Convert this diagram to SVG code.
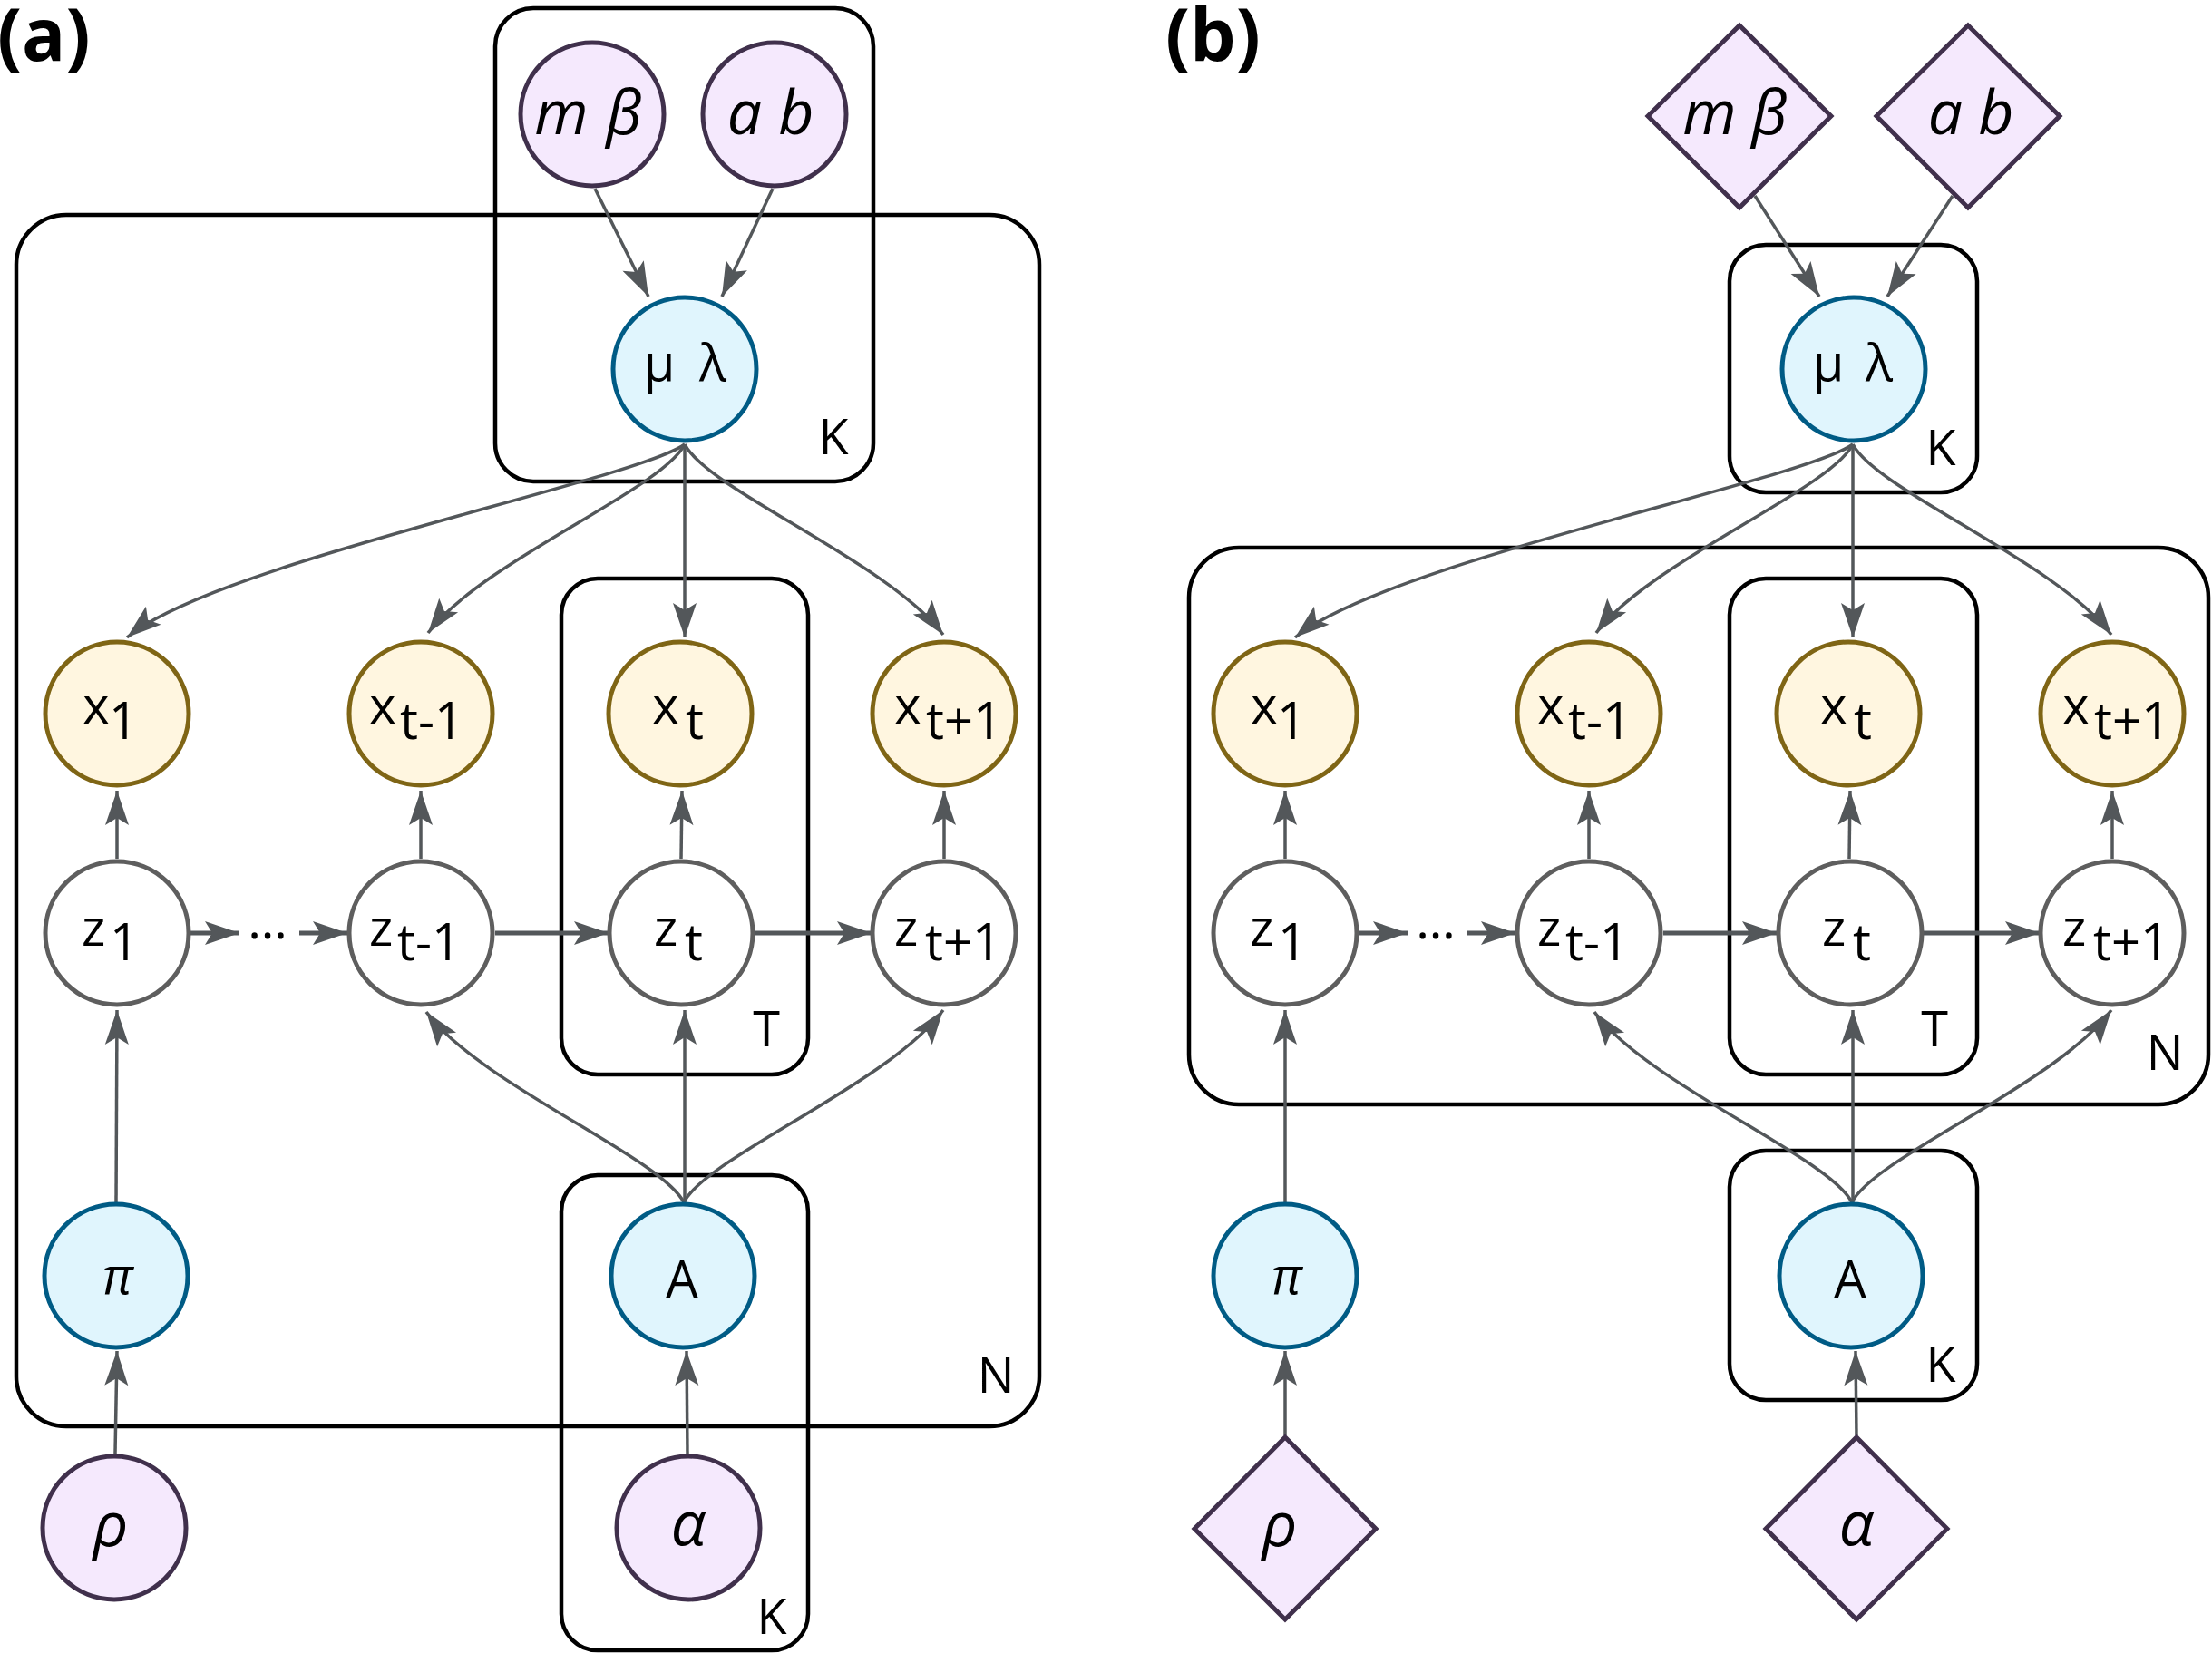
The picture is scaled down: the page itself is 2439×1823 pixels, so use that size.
<svg xmlns="http://www.w3.org/2000/svg" width="2439" height="1823" viewBox="0 0 2439 1823">
<style>
.plate{fill:none;stroke:#000;stroke-width:4.5}
.hyp{fill:#F5E9FD;stroke:#40304C;stroke-width:5}
.par{fill:#E0F5FD;stroke:#005B85;stroke-width:5}
.obs{fill:#FFF6E0;stroke:#7F6515;stroke-width:5}
.lat{fill:#FFFFFF;stroke:#5E5E5E;stroke-width:5}
.c{fill:none;stroke:#53575A;stroke-width:3.5;marker-end:url(#ah)}
.ct{fill:none;stroke:#53575A;stroke-width:5;marker-end:url(#ah)}
text{font-family:"Open Sans","DejaVu Sans",sans-serif;fill:#000}
.lb{font-size:56px;text-anchor:middle}
.it{font-size:68px;font-style:italic;text-anchor:middle}
.itm{font-size:56px;font-style:italic;text-anchor:middle}
.pl{font-size:54px;text-anchor:middle}
.ttl{font-size:80px;font-weight:bold}
</style>
<defs>
<marker id="ah" markerUnits="userSpaceOnUse" viewBox="-42 -17 46 34" refX="0" refY="0" markerWidth="46" markerHeight="34" orient="auto">
<path d="M0,0 L-38,-13 L-30,0 L-38,13 Z" fill="#53575A"/>
</marker>
</defs>
<rect width="2439" height="1823" fill="#fff"/>
<text class="ttl" x="-3" y="67">(a)</text>
<text class="ttl" x="1285" y="67">(b)</text>

<g id="plates-a">
<rect class="plate" x="18" y="237" width="1128" height="1336" rx="55"/>
<rect class="plate" x="546" y="9" width="417" height="522" rx="42"/>
<rect class="plate" x="619" y="638" width="272" height="547" rx="40"/>
<rect class="plate" x="619" y="1296" width="272" height="524" rx="40"/>
<text class="pl" x="919" y="501">K</text>
<text class="pl" x="845" y="1154">T</text>
<text class="pl" x="1098" y="1536">N</text>
<text class="pl" x="851" y="1802">K</text>
</g>
<g id="plates-b">
<rect class="plate" x="1311" y="604" width="1124" height="614" rx="55"/>
<rect class="plate" x="1907" y="270" width="273" height="273" rx="40"/>
<rect class="plate" x="1907" y="638" width="273" height="547" rx="40"/>
<rect class="plate" x="1907" y="1269" width="273" height="275" rx="40"/>
<text class="pl" x="2140" y="513">K</text>
<text class="pl" x="2133" y="1154">T</text>
<text class="pl" x="2387" y="1180">N</text>
<text class="pl" x="2140" y="1524">K</text>
</g>

<g id="connectors">
<!-- panel a -->
<path class="c" d="M656,208 L715,327"/>
<path class="c" d="M852,208 L796,327"/>
<path class="c" d="M755,490 C700,530 240,620 140,703"/>
<path class="c" d="M755,490 C730,540 530,620 472,698"/>
<path class="c" d="M755,490 L755,703"/>
<path class="c" d="M755,490 C780,540 980,620 1040,700"/>
<path class="c" d="M129,947 L129,872"/>
<path class="c" d="M464,947 L464,872"/>
<path class="c" d="M751,947 L752,872"/>
<path class="c" d="M1041,947 L1041,872"/>
<path class="ct" d="M210,1029 L264,1029"/>
<path class="ct" d="M330,1029 L383,1029"/>
<path class="ct" d="M546,1029 L671,1029"/>
<path class="ct" d="M832,1029 L961,1029"/>
<path class="c" d="M128,1326 L129,1114"/>
<path class="c" d="M754,1326 C729,1276 529,1196 470,1116"/>
<path class="c" d="M755,1326 L755,1114"/>
<path class="c" d="M754,1326 C779,1276 979,1196 1040,1114"/>
<path class="c" d="M127,1603 L129,1490"/>
<path class="c" d="M758,1603 L757,1490"/>
<!-- panel b -->
<path class="c" d="M1935,216 L2006,327"/>
<path class="c" d="M2153,216 L2081,327"/>
<path class="c" d="M2043,490 C1988,530 1528,620 1428,703"/>
<path class="c" d="M2043,490 C2018,540 1818,620 1760,698"/>
<path class="c" d="M2043,490 L2043,703"/>
<path class="c" d="M2043,490 C2068,540 2268,620 2328,700"/>
<path class="c" d="M1417,947 L1417,872"/>
<path class="c" d="M1752,947 L1752,872"/>
<path class="c" d="M2039,947 L2040,872"/>
<path class="c" d="M2329,947 L2329,872"/>
<path class="ct" d="M1498,1029 L1552,1029"/>
<path class="ct" d="M1618,1029 L1671,1029"/>
<path class="ct" d="M1834,1029 L1959,1029"/>
<path class="ct" d="M2120,1029 L2249,1029"/>
<path class="c" d="M1417,1326 L1417,1114"/>
<path class="c" d="M2042,1326 C2017,1276 1817,1196 1758,1116"/>
<path class="c" d="M2043,1326 L2043,1114"/>
<path class="c" d="M2042,1326 C2067,1276 2267,1196 2328,1114"/>
<path class="c" d="M1417,1583 L1417,1490"/>
<path class="c" d="M2047,1583 L2046,1490"/>
</g>

<!-- panel a nodes -->
<g id="a-mbeta"><circle class="hyp" cx="653" cy="126" r="79"/><text class="it" x="619" y="148">m</text><text class="it" x="688" y="148">β</text></g>
<g id="a-ab"><circle class="hyp" cx="854" cy="126" r="79"/><text class="it" x="821" y="148">a</text><text class="it" x="878" y="148">b</text></g>
<g id="a-mulambda"><circle class="par" cx="755" cy="407" r="79"/><text class="lb" x="727" y="420">μ</text><text class="lb" x="786" y="420">λ</text></g>
<g id="a-x1"><circle class="obs" cx="129" cy="787" r="79"/><text class="lb" x="106" y="798">x</text><text class="lb" x="136" y="815">1</text></g>
<g id="a-xtm1"><circle class="obs" cx="464" cy="787" r="79"/><text class="lb" x="422" y="798">x</text><text class="lb" x="476" y="815">t-1</text></g>
<g id="a-xt"><circle class="obs" cx="750" cy="787" r="79"/><text class="lb" x="734" y="798">x</text><text class="lb" x="766" y="815">t</text></g>
<g id="a-xtp1"><circle class="obs" cx="1041" cy="787" r="79"/><text class="lb" x="1001" y="798">x</text><text class="lb" x="1063" y="815">t+1</text></g>
<g id="a-z1"><circle class="lat" cx="129" cy="1029" r="79"/><text class="lb" x="103" y="1043">z</text><text class="lb" x="137" y="1059">1</text></g>
<g id="a-dots"><text class="lb" x="295" y="1035">…</text></g>
<g id="a-ztm1"><circle class="lat" cx="464" cy="1029" r="79"/><text class="lb" x="420" y="1043">z</text><text class="lb" x="473" y="1059">t-1</text></g>
<g id="a-zt"><circle class="lat" cx="751" cy="1029" r="79"/><text class="lb" x="734" y="1043">z</text><text class="lb" x="765" y="1059">t</text></g>
<g id="a-ztp1"><circle class="lat" cx="1041" cy="1029" r="79"/><text class="lb" x="999" y="1043">z</text><text class="lb" x="1062" y="1059">t+1</text></g>
<g id="a-pi"><circle class="par" cx="128" cy="1407" r="79"/><text class="itm" x="130" y="1427">π</text></g>
<g id="a-A"><circle class="par" cx="753" cy="1407" r="79"/><text class="lb" x="752" y="1431">A</text></g>
<g id="a-rho"><circle class="hyp" cx="126" cy="1685" r="79"/><text class="it" x="122" y="1705">ρ</text></g>
<g id="a-alpha"><circle class="hyp" cx="759" cy="1685" r="79"/><text class="it" x="759" y="1704">α</text></g>

<!-- panel b nodes -->
<g id="b-mbeta"><polygon class="hyp" points="1918,28 2019,128 1918,229 1817,128"/><text class="it" x="1885" y="148">m</text><text class="it" x="1951" y="148">β</text></g>
<g id="b-ab"><polygon class="hyp" points="2170,28 2271,128 2170,229 2069,128"/><text class="it" x="2145" y="148">a</text><text class="it" x="2201" y="148">b</text></g>
<g id="b-mulambda"><circle class="par" cx="2044" cy="407" r="79"/><text class="lb" x="2016" y="420">μ</text><text class="lb" x="2072" y="420">λ</text></g>
<g id="b-x1"><circle class="obs" cx="1417" cy="787" r="79"/><text class="lb" x="1394" y="798">x</text><text class="lb" x="1424" y="815">1</text></g>
<g id="b-xtm1"><circle class="obs" cx="1752" cy="787" r="79"/><text class="lb" x="1710" y="798">x</text><text class="lb" x="1764" y="815">t-1</text></g>
<g id="b-xt"><circle class="obs" cx="2038" cy="787" r="79"/><text class="lb" x="2022" y="798">x</text><text class="lb" x="2054" y="815">t</text></g>
<g id="b-xtp1"><circle class="obs" cx="2329" cy="787" r="79"/><text class="lb" x="2289" y="798">x</text><text class="lb" x="2351" y="815">t+1</text></g>
<g id="b-z1"><circle class="lat" cx="1417" cy="1029" r="79"/><text class="lb" x="1391" y="1043">z</text><text class="lb" x="1425" y="1059">1</text></g>
<g id="b-dots"><text class="lb" x="1583" y="1035">…</text></g>
<g id="b-ztm1"><circle class="lat" cx="1752" cy="1029" r="79"/><text class="lb" x="1708" y="1043">z</text><text class="lb" x="1761" y="1059">t-1</text></g>
<g id="b-zt"><circle class="lat" cx="2040" cy="1029" r="79"/><text class="lb" x="2022" y="1043">z</text><text class="lb" x="2053" y="1059">t</text></g>
<g id="b-ztp1"><circle class="lat" cx="2329" cy="1029" r="79"/><text class="lb" x="2287" y="1043">z</text><text class="lb" x="2350" y="1059">t+1</text></g>
<g id="b-pi"><circle class="par" cx="1417" cy="1407" r="79"/><text class="itm" x="1419" y="1427">π</text></g>
<g id="b-A"><circle class="par" cx="2041" cy="1407" r="79"/><text class="lb" x="2040" y="1431">A</text></g>
<g id="b-rho"><polygon class="hyp" points="1417,1585 1517,1686 1417,1786 1317,1686"/><text class="it" x="1411" y="1705">ρ</text></g>
<g id="b-alpha"><polygon class="hyp" points="2047,1585 2147,1686 2047,1786 1947,1686"/><text class="it" x="2047" y="1704">α</text></g>
</svg>
